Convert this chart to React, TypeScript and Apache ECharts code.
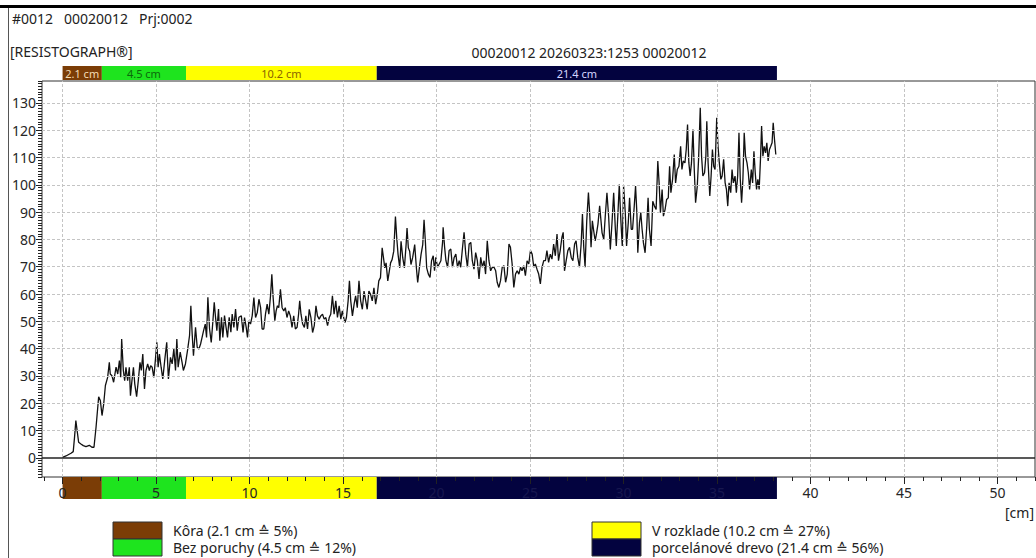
import React, { useEffect, useRef } from "react";
import * as echarts from "echarts";

// ---- data ----
const headerLine = "#0012   00020012   Prj:0002";
const deviceTitle = "[RESISTOGRAPH\u00AE]";
const measurementTitle = "00020012 20260323:1253 00020012";
const xUnit = "[cm]";

const zoneNames = ["K\u00F4ra", "Bez poruchy", "V rozklade", "porcel\u00E1nov\u00E9 drevo"];
const zoneLengthsCm = [2.1, 4.5, 10.2, 21.4];
const zonePercents = [5, 12, 27, 56];
const zoneColors = ["#7b3d06", "#1ee41e", "#ffff00", "#03033f"];
const zoneTextColors = ["#f4dcb4", "#0b6a0b", "#8a6400", "#d6d6ff"];

const xLabelTicks = [0, 5, 10, 15, 20, 25, 30, 35, 40, 45, 50];
const yLabelTicks = [0, 10, 20, 30, 40, 50, 60, 70, 80, 90, 100, 110, 120, 130];

// [depth cm, amplitude]
const resistanceProfile: [number, number][] = [
  [0, 0.2], [0.18, 0.7], [0.45, 1.7], [0.57, 2.3], [0.64, 7.6], [0.71, 13.7], [0.79, 9.4], [0.86, 5.7],
  [0.98, 5.1], [1.11, 4.5], [1.25, 4.1], [1.43, 4.6], [1.57, 3.9], [1.68, 3.9], [1.79, 11.2], [1.93, 22.4],
  [2.02, 21.0], [2.11, 15.5], [2.2, 19.8], [2.29, 26.5], [2.41, 29.5], [2.5, 35.0], [2.55, 30.7], [2.64, 30.1],
  [2.73, 27.7], [2.86, 33.2], [2.95, 30.7], [3.04, 35.6], [3.11, 29.5], [3.16, 43.5], [3.25, 32.0], [3.32, 28.3],
  [3.39, 33.2], [3.48, 28.3], [3.57, 33.2], [3.63, 22.8], [3.71, 28.3], [3.79, 33.2], [3.86, 27.1], [3.96, 22.4],
  [4.05, 28.3], [4.14, 35.0], [4.21, 32.0], [4.29, 38.0], [4.38, 25.2], [4.46, 32.0], [4.55, 34.4], [4.64, 32.0],
  [4.71, 33.8], [4.79, 33.2], [4.88, 29.5], [4.96, 35.6], [5.04, 42.3], [5.11, 33.2], [5.18, 38.0], [5.27, 33.2],
  [5.36, 28.9], [5.46, 35.6], [5.57, 42.3], [5.66, 28.9], [5.77, 36.8], [5.86, 34.4], [5.95, 39.9], [6.04, 32.0],
  [6.11, 43.5], [6.18, 33.2], [6.29, 38.7], [6.39, 35.0], [6.46, 32.0], [6.57, 34.4], [6.68, 39.3], [6.79, 44.8],
  [6.86, 55.7], [6.93, 45.4], [7.0, 37.4], [7.11, 47.8], [7.2, 40.5], [7.29, 39.9], [7.38, 41.7], [7.46, 44.1],
  [7.54, 46.6], [7.63, 49.0], [7.7, 44.1], [7.77, 58.8], [7.86, 47.2], [7.95, 42.3], [8.04, 50.2], [8.11, 57.0],
  [8.18, 51.5], [8.25, 46.6], [8.34, 54.5], [8.41, 42.9], [8.5, 51.5], [8.57, 44.1], [8.66, 52.1], [8.73, 48.4],
  [8.82, 44.1], [8.91, 51.5], [9.0, 46.0], [9.07, 52.7], [9.16, 47.8], [9.25, 54.5], [9.34, 46.6], [9.43, 51.5],
  [9.56, 52.0], [9.65, 45.9], [9.73, 51.4], [9.82, 47.8], [9.89, 44.1], [9.96, 50.2], [10.05, 49.0], [10.14, 52.0],
  [10.23, 58.7], [10.32, 51.4], [10.41, 53.2], [10.5, 58.1], [10.59, 55.0], [10.67, 47.2], [10.76, 47.2], [10.85, 52.6],
  [10.94, 56.3], [11.03, 52.6], [11.12, 59.3], [11.19, 67.2], [11.26, 58.7], [11.35, 50.2], [11.42, 53.8], [11.49, 55.7],
  [11.56, 55.0], [11.65, 61.7], [11.74, 55.0], [11.83, 53.8], [11.91, 55.0], [12.0, 51.4], [12.09, 53.8], [12.18, 52.0],
  [12.27, 47.8], [12.36, 52.0], [12.45, 47.2], [12.54, 47.8], [12.62, 52.6], [12.68, 57.5], [12.75, 52.6], [12.84, 49.0],
  [12.93, 47.8], [13.01, 52.0], [13.1, 47.2], [13.19, 54.4], [13.28, 51.4], [13.37, 45.9], [13.46, 48.4], [13.55, 55.7],
  [13.63, 52.0], [13.72, 50.8], [13.81, 52.0], [13.9, 52.6], [13.99, 50.8], [14.08, 51.4], [14.17, 48.4], [14.26, 51.4],
  [14.34, 52.6], [14.43, 59.3], [14.52, 52.6], [14.61, 57.5], [14.7, 51.4], [14.79, 55.7], [14.88, 50.8], [14.96, 53.8],
  [15.05, 50.8], [15.11, 49.6], [15.18, 51.4], [15.27, 57.5], [15.34, 64.8], [15.41, 57.5], [15.5, 52.0], [15.59, 56.3],
  [15.67, 59.3], [15.76, 55.0], [15.85, 64.8], [15.94, 57.5], [16.03, 54.4], [16.12, 61.1], [16.21, 57.5], [16.29, 54.4],
  [16.38, 61.1], [16.47, 59.9], [16.56, 57.5], [16.65, 62.3], [16.74, 56.3], [16.83, 59.9], [16.91, 64.8], [17.0, 66.0],
  [17.09, 76.9], [17.16, 73.3], [17.23, 69.6], [17.3, 71.4], [17.39, 64.8], [17.46, 67.8], [17.54, 71.4], [17.62, 72.6],
  [17.71, 75.7], [17.8, 88.4], [17.87, 80.5], [17.94, 74.5], [18.03, 69.6], [18.1, 79.3], [18.19, 73.3], [18.28, 69.6],
  [18.37, 78.1], [18.42, 84.2], [18.49, 76.9], [18.56, 75.7], [18.63, 70.8], [18.72, 73.3], [18.83, 78.1], [18.92, 69.6],
  [18.99, 64.2], [19.08, 69.6], [19.17, 74.5], [19.26, 78.1], [19.33, 87.2], [19.4, 79.3], [19.47, 69.6], [19.56, 67.3],
  [19.65, 66.1], [19.73, 72.2], [19.82, 74.0], [19.89, 68.5], [19.96, 73.4], [20.05, 69.8], [20.14, 71.0], [20.23, 72.2],
  [20.32, 78.9], [20.35, 84.4], [20.43, 77.1], [20.5, 72.2], [20.59, 69.8], [20.67, 75.9], [20.76, 76.5], [20.85, 69.8],
  [20.94, 73.4], [21.03, 74.6], [21.12, 69.8], [21.21, 72.2], [21.29, 69.8], [21.38, 76.5], [21.47, 82.6], [21.56, 74.6],
  [21.65, 69.8], [21.74, 78.3], [21.83, 78.9], [21.91, 72.2], [22.0, 69.1], [22.09, 75.2], [22.18, 72.2], [22.27, 65.5],
  [22.36, 73.4], [22.45, 69.8], [22.54, 72.2], [22.62, 67.3], [22.71, 79.5], [22.8, 72.2], [22.89, 68.5], [22.98, 69.8],
  [23.07, 69.8], [23.16, 68.5], [23.24, 64.3], [23.33, 62.4], [23.42, 64.9], [23.51, 69.8], [23.6, 70.4], [23.69, 64.3],
  [23.78, 67.3], [23.87, 78.3], [23.95, 77.1], [24.04, 71.0], [24.13, 62.4], [24.22, 67.3], [24.31, 68.5], [24.4, 67.3],
  [24.49, 69.8], [24.57, 68.5], [24.66, 70.4], [24.75, 66.7], [24.84, 72.2], [24.93, 71.0], [25.02, 75.9], [25.11, 74.6],
  [25.2, 69.8], [25.28, 71.0], [25.37, 69.1], [25.46, 67.3], [25.55, 63.7], [25.64, 69.8], [25.73, 72.2], [25.82, 72.2],
  [25.9, 75.9], [25.99, 71.6], [26.08, 74.6], [26.17, 72.8], [26.26, 78.3], [26.35, 74.0], [26.44, 82.0], [26.52, 72.2],
  [26.61, 75.9], [26.7, 80.7], [26.77, 82.6], [26.84, 68.5], [26.93, 72.2], [27.02, 75.9], [27.11, 77.1], [27.2, 73.4],
  [27.29, 72.2], [27.38, 78.3], [27.46, 79.5], [27.55, 73.4], [27.64, 69.8], [27.73, 78.3], [27.8, 89.3], [27.87, 77.1],
  [27.94, 69.8], [28.03, 86.8], [28.12, 97.2], [28.19, 89.3], [28.26, 77.1], [28.33, 86.8], [28.4, 83.2], [28.48, 79.5],
  [28.55, 82.0], [28.63, 85.6], [28.72, 92.3], [28.85, 82.4], [28.94, 80.0], [29.02, 88.5], [29.11, 97.1], [29.2, 88.5],
  [29.29, 76.3], [29.38, 86.1], [29.47, 97.1], [29.56, 83.7], [29.61, 77.6], [29.7, 89.8], [29.77, 100.1], [29.86, 86.1],
  [29.93, 77.6], [30.0, 99.5], [30.09, 89.8], [30.16, 77.6], [30.25, 86.1], [30.32, 95.2], [30.41, 83.7], [30.48, 83.7],
  [30.57, 92.2], [30.64, 99.5], [30.71, 89.8], [30.76, 75.1], [30.85, 86.1], [30.92, 89.8], [30.99, 83.7], [31.06, 78.8],
  [31.15, 75.1], [31.24, 84.9], [31.31, 95.2], [31.38, 83.7], [31.47, 77.6], [31.56, 94.0], [31.65, 92.2], [31.74, 91.0],
  [31.83, 108.7], [31.9, 100.7], [31.97, 89.8], [32.06, 98.3], [32.13, 88.5], [32.22, 91.0], [32.3, 94.6], [32.39, 95.2],
  [32.46, 106.8], [32.53, 97.1], [32.62, 102.0], [32.71, 111.1], [32.78, 100.7], [32.87, 105.6], [32.96, 106.8], [33.05, 114.1],
  [33.12, 105.6], [33.19, 108.7], [33.28, 108.0], [33.35, 112.9], [33.42, 122.1], [33.49, 108.0], [33.56, 103.2], [33.63, 108.0],
  [33.71, 120.2], [33.78, 105.6], [33.85, 93.4], [33.94, 99.5], [34.01, 109.3], [34.1, 128.2], [34.17, 110.5], [34.24, 103.2],
  [34.33, 104.4], [34.4, 110.5], [34.45, 123.3], [34.52, 108.0], [34.61, 95.9], [34.68, 103.2], [34.75, 112.9], [34.82, 106.8],
  [34.89, 105.6], [34.98, 124.5], [35.05, 114.1], [35.12, 108.0], [35.2, 102.0], [35.27, 103.2], [35.35, 109.3], [35.43, 100.7],
  [35.5, 98.3], [35.57, 92.2], [35.64, 100.7], [35.73, 97.1], [35.8, 105.6], [35.87, 100.7], [35.96, 103.2], [36.03, 97.1],
  [36.1, 103.2], [36.17, 119.0], [36.24, 102.0], [36.31, 93.4], [36.38, 102.0], [36.45, 119.0], [36.52, 110.5], [36.6, 108.0],
  [36.67, 104.4], [36.74, 98.3], [36.83, 105.6], [36.9, 100.7], [36.97, 112.3], [37.04, 104.4], [37.11, 98.3], [37.18, 102.0],
  [37.25, 98.3], [37.32, 109.3], [37.38, 121.5], [37.45, 110.5], [37.52, 114.1], [37.59, 111.7], [37.66, 115.4], [37.73, 108.7],
  [37.8, 112.9], [37.87, 114.1], [37.94, 115.4], [38.0, 122.7], [38.07, 116.6], [38.14, 111.1],
];

const FONT = '"Noto Sans", "DejaVu Sans", sans-serif';

export default function App() {
  const ref = useRef<HTMLDivElement>(null);

  useEffect(() => {
    if (!ref.current) return;
    const chart = echarts.init(ref.current, null, { renderer: "svg" });

    const zoneStarts: number[] = [];
    let acc = 0;
    zoneLengthsCm.forEach((l) => {
      zoneStarts.push(acc);
      acc += l;
    });
    const zoneData = zoneLengthsCm.map((l, i) => [zoneStarts[i], zoneStarts[i] + l, i]);
    const darkZoneStart = zoneStarts[3];
    const darkZoneEnd = zoneStarts[3] + zoneLengthsCm[3];

    const xMinorTicks: number[] = [];
    for (let v = -1; v <= 52; v++) xMinorTicks.push(v);
    const yMinorTicks: number[] = [];
    for (let v = -7; v <= 138; v++) yMinorTicks.push(v);

    const legendX = [113, 113, 592, 592];
    const legendY = [522, 539, 522, 539];

    const graphics: any[] = [
      { type: "line", shape: { x1: 0, y1: 6.5, x2: 1036, y2: 6.5 }, style: { stroke: "#000", lineWidth: 3 } },
      { type: "line", shape: { x1: 8.5, y1: 8, x2: 8.5, y2: 558 }, style: { stroke: "#555", lineWidth: 1 } },
      { type: "text", x: 12, y: 18, style: { text: headerLine, font: `14px ${FONT}`, fill: "#222", verticalAlign: "middle" } },
      { type: "text", x: 10, y: 51, style: { text: deviceTitle, font: `14px ${FONT}`, fill: "#222", verticalAlign: "middle" } },
      { type: "text", x: 589, y: 52, style: { text: measurementTitle, font: `14px ${FONT}`, fill: "#222", align: "center", verticalAlign: "middle" } },
      { type: "text", x: 1034, y: 512, style: { text: xUnit, font: `14px ${FONT}`, fill: "#222", align: "right", verticalAlign: "middle" } },
    ];
    zoneNames.forEach((name, i) => {
      graphics.push({
        type: "rect",
        shape: { x: legendX[i], y: legendY[i], width: 49, height: 17 },
        style: { fill: zoneColors[i], stroke: "#333", lineWidth: 1 },
      });
      graphics.push({
        type: "text",
        x: legendX[i] + 60,
        y: legendY[i] + 8.5,
        style: {
          text: `${name} (${zoneLengthsCm[i].toFixed(1)} cm \u2259 ${zonePercents[i]}%)`,
          font: `14px ${FONT}`,
          fill: "#222",
          verticalAlign: "middle",
        },
      });
    });

    const gridLineStyle = { color: "#c4c4c4", type: [3, 2] as any, width: 1 };
    const hiddenLine = { show: false, onZero: false };

    chart.setOption({
      animation: false,
      backgroundColor: "#fff",
      grid: { left: 42, right: 1, top: 81, bottom: 81, show: true, borderColor: "#333", borderWidth: 1 },
      xAxis: [
        {
          type: "value", min: -1.1, max: 52, position: "bottom", z: 5,
          axisLine: hiddenLine, splitLine: { show: false },
          axisTick: { show: true, customValues: xLabelTicks, length: 7, lineStyle: { color: "#222" } },
          axisLabel: {
            customValues: xLabelTicks,
            color: (v: any) => (Number(v) > darkZoneStart && Number(v) < darkZoneEnd ? "#17174f" : "#262626"),
            fontSize: 14,
            fontFamily: FONT,
            margin: 8,
          },
        },
        {
          type: "value", min: -1.1, max: 52, position: "bottom", z: 5,
          axisLine: hiddenLine, splitLine: { show: false },
          axisTick: { show: true, customValues: xMinorTicks, length: 4, lineStyle: { color: "#222" } },
          axisLabel: { show: false },
        },
      ],
      yAxis: [
        {
          type: "value", min: -7, max: 138, position: "left",
          axisLine: hiddenLine, splitLine: { show: false },
          axisTick: { show: true, customValues: yLabelTicks, length: 6, lineStyle: { color: "#222" } },
          axisLabel: { customValues: yLabelTicks, color: "#262626", fontSize: 14, fontFamily: FONT, margin: 6 },
        },
        {
          type: "value", min: -7, max: 138, position: "left",
          axisLine: hiddenLine, splitLine: { show: false },
          axisTick: { show: true, customValues: yMinorTicks, length: 4, lineStyle: { color: "#222" } },
          axisLabel: { show: false },
        },
      ],
      graphic: graphics,
      series: [
        {
          type: "line",
          xAxisIndex: 0,
          yAxisIndex: 0,
          data: [],
          z: 1,
          silent: true,
          markLine: {
            silent: true,
            symbol: ["none", "none"],
            label: { show: false },
            lineStyle: gridLineStyle,
            data: [
              ...xLabelTicks.map((v) => ({ xAxis: v })),
              ...yLabelTicks.filter((v) => v > 0).map((v) => ({ yAxis: v })),
              { yAxis: 0, lineStyle: { color: "#222", type: "solid", width: 1.5 } },
            ],
          },
        },
        {
          type: "custom",
          xAxisIndex: 0,
          yAxisIndex: 0,
          silent: true,
          clip: false,
          z: 1,
          data: zoneData,
          renderItem: (params: any, api: any) => {
            const cs = params.coordSys;
            const i = api.value(2);
            const x0 = api.coord([api.value(0), 0])[0];
            const x1 = api.coord([api.value(1), 0])[0];
            return {
              type: "group",
              children: [
                { type: "rect", shape: { x: x0, y: cs.y - 15, width: x1 - x0, height: 14 }, style: { fill: zoneColors[i] } },
                {
                  type: "text",
                  style: {
                    text: `${zoneLengthsCm[i].toFixed(1)} cm`,
                    x: (x0 + x1) / 2,
                    y: cs.y - 8,
                    align: "center",
                    verticalAlign: "middle",
                    fill: zoneTextColors[i],
                    font: `11px ${FONT}`,
                  },
                },
                { type: "rect", shape: { x: x0, y: cs.y + cs.height, width: x1 - x0, height: 22 }, style: { fill: zoneColors[i] } },
              ],
            };
          },
        },
        {
          type: "line",
          xAxisIndex: 0,
          yAxisIndex: 0,
          data: resistanceProfile,
          showSymbol: false,
          z: 3,
          silent: true,
          lineStyle: { color: "#111", width: 1.3 },
        },
      ],
    });

    return () => chart.dispose();
  }, []);

  return (
    <div
      ref={ref}
      style={{ position: "absolute", left: 0, top: 0, width: 1036, height: 558, background: "#fff" }}
    />
  );
}
